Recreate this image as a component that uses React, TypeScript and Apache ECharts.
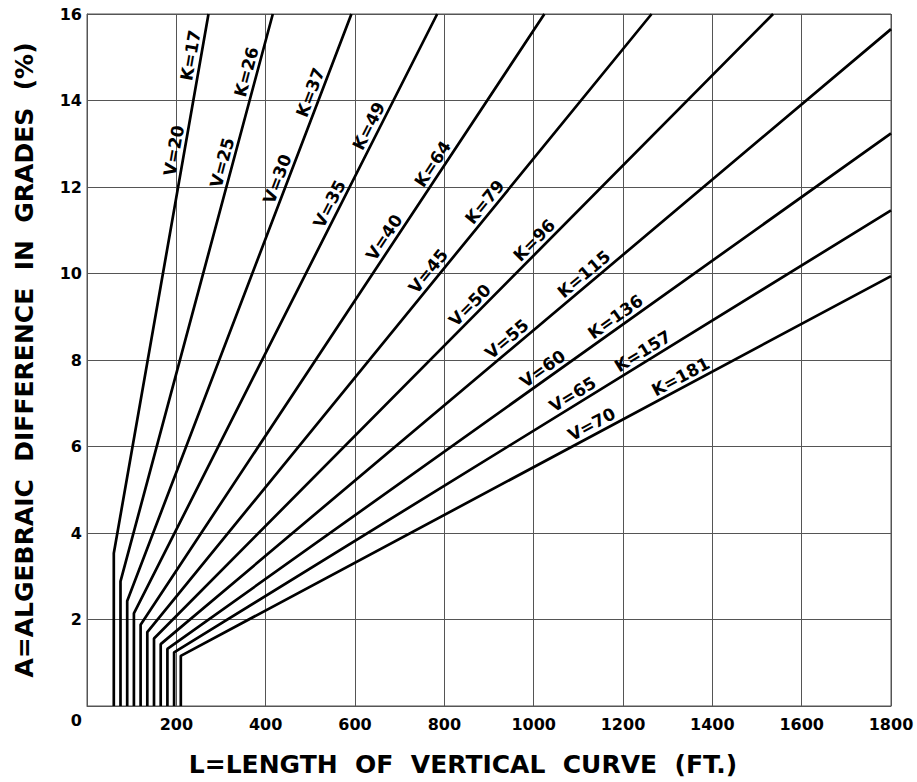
import React, { useEffect, useRef } from "react";
import * as echarts from "echarts";

// Design speeds (mph) and rate of vertical curvature K for each line
const speeds = [20, 25, 30, 35, 40, 45, 50, 55, 60, 65, 70];
const kValues = [17, 26, 37, 49, 64, 79, 96, 115, 136, 157, 181];
// Minimum curve length (ft) – vertical part of each line
const minLengths = [60, 75, 90, 105, 120, 135, 150, 165, 180, 195, 210];
// Grade difference (%) where each line bends
const breakGrades = [3.53, 2.88, 2.43, 2.14, 1.88, 1.71, 1.56, 1.43, 1.32, 1.24, 1.16];
// End point of each sloping part (ft, %)
const endLengths = [272, 416, 592, 784, 1024, 1264, 1536, 1800, 1800, 1800, 1800];
const endGrades = [16, 16, 16, 16, 16, 16, 16, 15.65, 13.24, 11.46, 9.94];
// Grade (%) along each line where the V and K labels sit
const vLabelGrades = [12.8, 12.5, 12.1, 11.5, 10.7, 9.9, 9.1, 8.3, 7.6, 7.0, 6.3];
const kLabelGrades = [15.0, 14.6, 14.1, 13.3, 12.4, 11.5, 10.6, 9.8, 8.8, 8.0, 7.4];

const xTitle = "L=LENGTH  OF  VERTICAL  CURVE  (FT.)";
const yTitle = "A=ALGEBRAIC  DIFFERENCE  IN  GRADES  (%)";

const FONT = "DejaVu Sans";
const GRID_COLOR = "#555";

export default function App() {
  const ref = useRef<HTMLDivElement>(null);

  useEffect(() => {
    if (!ref.current) return;
    const chart = echarts.init(ref.current, undefined, { renderer: "svg" });

    const series = kValues.map((k, i) => ({
      type: "line",
      name: "K=" + k,
      data: [
        [minLengths[i], 0],
        [minLengths[i], breakGrades[i]],
        [endLengths[i], endGrades[i]],
      ],
      symbol: "none",
      lineStyle: { color: "#000", width: 2.7 },
      z: 3,
    }));

    chart.setOption({
      animation: false,
      backgroundColor: "#fff",
      grid: {
        left: 87,
        top: 14,
        right: 26,
        bottom: 74,
        show: true,
        borderColor: GRID_COLOR,
        borderWidth: 1,
      },
      xAxis: {
        type: "value",
        min: 0,
        max: 1800,
        interval: 200,
        name: xTitle,
        nameLocation: "middle",
        nameGap: 46,
        nameTextStyle: {
          fontFamily: FONT,
          fontWeight: "bold",
          fontSize: 25,
          color: "#000",
          padding: [0, 52, 0, 0],
        },
        axisLine: { show: true, lineStyle: { color: GRID_COLOR, width: 1 } },
        axisTick: { show: false },
        splitLine: { show: true, lineStyle: { color: GRID_COLOR, width: 1 } },
        axisLabel: {
          margin: 10,
          fontFamily: FONT,
          fontWeight: "bold",
          fontSize: 16,
          color: "#000",
          formatter: (v: number) => (v === 0 ? "" : String(v)),
        },
      },
      yAxis: {
        type: "value",
        min: 0,
        max: 16,
        interval: 2,
        name: yTitle,
        nameLocation: "middle",
        nameGap: 50,
        nameTextStyle: {
          fontFamily: FONT,
          fontWeight: "bold",
          fontSize: 25,
          color: "#000",
        },
        axisLine: { show: true, lineStyle: { color: GRID_COLOR, width: 1 } },
        axisTick: { show: false },
        splitLine: { show: true, lineStyle: { color: GRID_COLOR, width: 1 } },
        axisLabel: {
          margin: 5,
          fontFamily: FONT,
          fontWeight: "bold",
          fontSize: 16,
          color: "#000",
          formatter: (v: number) => (v === 0 ? "{z|0}" : String(v)),
          rich: {
            z: {
              fontFamily: FONT,
              fontWeight: "bold",
              fontSize: 16,
              color: "#000",
              padding: [28, 0, 0, 0],
            },
          },
        },
      },
      series,
    });

    // Labels along each line, rotated to the line's on-screen angle
    const graphics: any[] = [];
    const GAP = 2;
    kValues.forEach((k, i) => {
      const p1 = chart.convertToPixel({ gridIndex: 0 }, [minLengths[i], breakGrades[i]]) as number[];
      const p2 = chart.convertToPixel({ gridIndex: 0 }, [endLengths[i], endGrades[i]]) as number[];
      const theta = Math.atan2(p1[1] - p2[1], p2[0] - p1[0]);
      const place = (grade: number, text: string) => {
        const t = (grade - breakGrades[i]) / (endGrades[i] - breakGrades[i]);
        const L = minLengths[i] + t * (endLengths[i] - minLengths[i]);
        const p = chart.convertToPixel({ gridIndex: 0 }, [L, grade]) as number[];
        graphics.push({
          type: "text",
          x: p[0] - Math.sin(theta) * GAP,
          y: p[1] - Math.cos(theta) * GAP,
          rotation: theta,
          z: 10,
          style: {
            text,
            fontFamily: FONT,
            fontWeight: "bold",
            fontSize: 17,
            fill: "#000",
            align: "center",
            verticalAlign: "bottom",
          },
        });
      };
      place(vLabelGrades[i], "V=" + speeds[i]);
      place(kLabelGrades[i], "K=" + k);
    });
    chart.setOption({ graphic: graphics });

    return () => chart.dispose();
  }, []);

  return (
    <div
      ref={ref}
      style={{ position: "fixed", left: 0, top: 0, width: 917, height: 782, background: "#fff" }}
    />
  );
}
